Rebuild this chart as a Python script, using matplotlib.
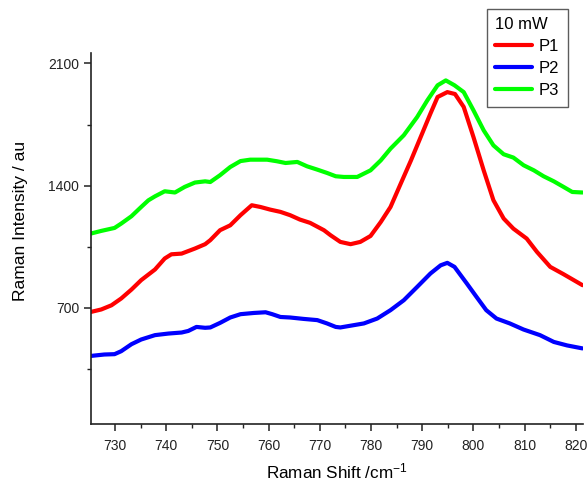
import matplotlib
matplotlib.use("Agg")
import matplotlib.pyplot as plt
from matplotlib.ticker import MultipleLocator

plt.rcParams['font.family'] = ['Liberation Sans', 'DejaVu Sans']
plt.rcParams['mathtext.default'] = 'regular'

# Raman spectra, 10 mW excitation
shift_p1 = [725.3, 727.3, 729.3, 731.2, 733.2, 735.1, 737.8, 739.7, 741.0, 743.0,
            745.6, 747.6, 748.6, 750.5, 752.5, 754.5, 756.7, 758.4, 760.3, 762.3,
            764.2, 766.1, 768.1, 770.8, 772.1, 774.0, 776.0, 777.9, 779.9, 781.9,
            783.8, 785.8, 787.8, 789.7, 791.6, 793.0, 794.9, 796.4, 798.1, 800.0,
            802.0, 803.9, 805.9, 807.8, 810.4, 812.4, 815.0, 817.6, 821.3]
p1 = [677, 691, 715, 754, 805, 859, 920, 983, 1007, 1011,
      1040, 1065, 1088, 1145, 1173, 1231, 1288, 1278, 1263, 1250,
      1231, 1206, 1187, 1145, 1116, 1078, 1065, 1078, 1112, 1192,
      1278, 1412, 1545, 1679, 1813, 1908, 1936, 1925, 1851, 1679,
      1488, 1317, 1212, 1154, 1097, 1021, 935, 893, 830]

shift_p2 = [725.3, 727.9, 729.9, 731.2, 733.2, 735.1, 737.8, 740.4, 743.0, 744.3,
            745.9, 747.6, 748.6, 750.5, 752.5, 754.5, 757.1, 759.4, 760.7, 762.3,
            764.2, 766.8, 769.5, 771.4, 773.1, 774.0, 776.6, 778.6, 781.2, 783.8,
            786.4, 789.0, 791.6, 793.6, 794.9, 796.3, 798.7, 800.6, 802.5, 804.5,
            807.1, 809.8, 813.0, 815.7, 818.3, 821.3]
p2 = [425, 433, 435, 452, 492, 519, 544, 553, 559, 568,
      591, 586, 588, 614, 645, 664, 671, 675, 664, 648,
      645, 637, 630, 611, 591, 588, 601, 611, 639, 687,
      744, 820, 897, 944, 958, 935, 840, 763, 687, 639,
      611, 576, 544, 505, 485, 468]

shift_p3 = [725.3, 727.3, 729.9, 731.2, 733.2, 735.1, 736.5, 737.8, 739.7, 741.7,
            743.6, 745.6, 747.6, 748.6, 750.5, 752.5, 754.5, 756.4, 759.7, 761.6,
            763.3, 765.6, 767.5, 769.5, 771.4, 773.1, 774.7, 777.3, 779.9, 781.9,
            783.8, 786.4, 789.0, 791.0, 793.0, 794.6, 796.3, 798.1, 800.0, 802.0,
            803.9, 805.9, 807.8, 809.8, 811.8, 813.7, 815.7, 817.6, 819.3, 821.3]
p3 = [1126, 1141, 1158, 1183, 1225, 1278, 1316, 1339, 1368, 1361,
      1393, 1418, 1425, 1421, 1460, 1507, 1541, 1549, 1549, 1540,
      1530, 1536, 1511, 1492, 1473, 1454, 1450, 1450, 1488, 1545,
      1612, 1689, 1793, 1889, 1975, 2003, 1975, 1936, 1832, 1717,
      1631, 1580, 1561, 1517, 1488, 1454, 1425, 1393, 1364, 1361]

series = [
    ("P1", shift_p1, p1, "#ff0000"),
    ("P2", shift_p2, p2, "#0000ff"),
    ("P3", shift_p3, p3, "#00ff00"),
]

fig = plt.figure(figsize=(5.88, 4.88), dpi=100)
ax = fig.add_axes([91 / 588, 1 - 424 / 488, (583 - 91) / 588, (424 - 53) / 488])

for name, x, y, color in series:
    ax.plot(x, y, color=color, lw=3.0, label=name,
            solid_joinstyle='round', solid_capstyle='round')

ax.set_xlim(725.3, 821.4)
ax.set_ylim(35, 2160)
ax.xaxis.set_major_locator(MultipleLocator(10))
ax.xaxis.set_minor_locator(MultipleLocator(5))
ax.yaxis.set_major_locator(MultipleLocator(700))
ax.yaxis.set_minor_locator(MultipleLocator(350))

for side in ("top", "right"):
    ax.spines[side].set_visible(False)
for side in ("left", "bottom"):
    ax.spines[side].set_linewidth(1.2)
    ax.spines[side].set_color("#222222")

ax.tick_params(which="major", direction="out", length=5, width=1.1, labelsize=10,
               colors="#222222")
ax.tick_params(which="minor", direction="out", length=3, width=1.0, colors="#222222")
ax.tick_params(axis="x", pad=6)

ax.set_xlabel("Raman Shift /cm$^{-1}$", fontsize=12.3, labelpad=6)
ax.set_ylabel("Raman Intensity / au", fontsize=12.5)
ax.yaxis.set_label_coords(-0.128, 0.547)

leg = ax.legend(title="10 mW", loc="upper left",
                bbox_to_anchor=(487 / 588, 1 - 9 / 488), bbox_transform=fig.transFigure,
                borderaxespad=0, fontsize=12, title_fontsize=12, frameon=True,
                fancybox=False, edgecolor="#333333", handlelength=2.2,
                handletextpad=0.4, labelspacing=0.42, borderpad=0.5,
                alignment="left")
leg.get_frame().set_linewidth(1.0)

fig.savefig("out.png", dpi=100)
